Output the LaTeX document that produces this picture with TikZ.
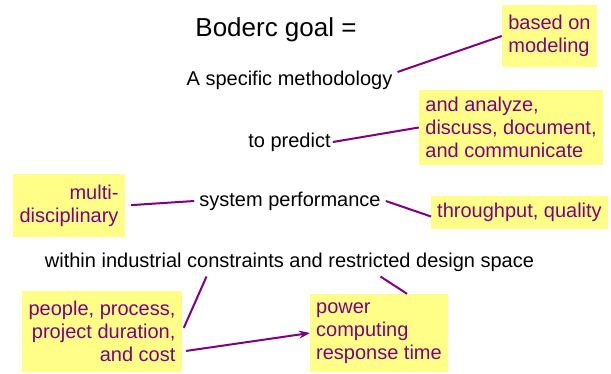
\documentclass[tikz,border=0pt]{standalone}
\usepackage{fontspec}
\setmainfont{Liberation Sans}
\usepackage{tikz}
\usetikzlibrary{arrows.meta}
\definecolor{notefill}{RGB}{255,255,136}
\definecolor{notepurple}{RGB}{128,0,128}
\tikzset{
  txt/.style={font=\fontsize{20}{23}\selectfont, inner sep=5pt},
  note/.style={fill=notefill, text=notepurple, font=\fontsize{20}{23}\selectfont, align=left, inner xsep=6pt, inner ysep=7pt},
  link/.style={draw=notepurple, line width=2pt},
}

\begin{document}
\begin{tikzpicture}[x=1pt,y=-1pt]
  \useasboundingbox (0,0) rectangle (611,373);
  % the goal statement
  \node[font=\fontsize{26}{30}\selectfont] (goal) at (276,30) {Boderc goal =};
  \node[txt] (meth) at (289.5,80) {A specific methodology};
  \node[txt, inner xsep=2pt] (predict) at (289.5,142) {to predict};
  \node[txt] (perf) at (290,201) {system performance};
  \node[txt] (within) at (289.5,262) {within industrial constraints and restricted design space};
  % yellow notes
  \node[note, minimum width=95pt, minimum height=62pt] (modeling) at (549.5,36) {based on\\modeling};
  \node[note, minimum width=184pt, minimum height=75pt] (analyze) at (511,127.5) {and analyze,\\discuss, document,\\and communicate};
  \node[note, align=right, minimum width=112pt, minimum height=63pt] (multi) at (69,205.5) {multi-\\disciplinary};
  \node[note, minimum width=175pt, minimum height=31pt] (throughput) at (519.5,212.5) {throughput, quality};
  \node[note, align=right, minimum width=160pt, minimum height=81pt] (people) at (102,331.5) {people, process,\\project duration,\\and cost};
  \node[note, minimum width=136pt, minimum height=78pt] (power) at (379,333) {power\\computing\\response time};
  % links
  \draw[link] ([yshift=8pt]meth.east) -- (modeling.west);
  \draw[link] (predict.east) -- (analyze.west);
  \draw[link, shorten <=6pt] (multi.east) -- (perf.west);
  \draw[link] (perf.east) -- ([yshift=-4pt]throughput.west);
  \draw[link, shorten >=4pt] ([xshift=-83pt]within.south) -- (people.east);
  \draw[link] ([xshift=91pt]within.south) -- ([xshift=28pt]power.north);
  \draw[link, -{Stealth[length=11pt,width=8pt]}, shorten <=4pt] ([yshift=-20pt]people.east) -- (power.west);
\end{tikzpicture}
\end{document}
